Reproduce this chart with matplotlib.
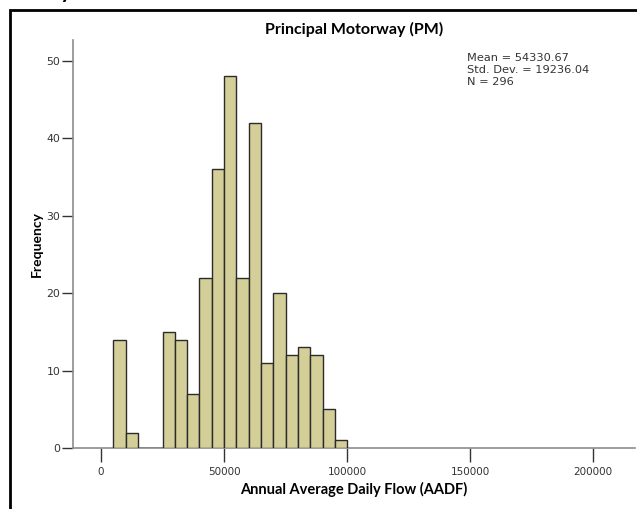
"""Histogram of AADF for principal motorways (SPSS style)."""

import matplotlib
matplotlib.use('Agg')
import matplotlib.pyplot as plt
from matplotlib.patches import Rectangle

BIN_START = [5000, 10000, 15000, 20000, 25000, 30000, 35000, 40000, 45000,
             50000, 55000, 60000, 65000, 70000, 75000, 80000, 85000, 90000,
             95000]
BIN_WIDTH = 5000
COUNTS = [14, 2, 0, 0, 15, 14, 7, 22, 36, 48, 22, 42, 11, 20, 12, 13, 12, 5, 1]

X_TICKS = [0, 50000, 100000, 150000, 200000]
Y_TICKS = [0, 10, 20, 30, 40, 50]

TITLE = 'Principal Motorway (PM)'
STATS = 'Mean = 54330.67\nStd. Dev. = 19236.04\nN = 296'
X_LABEL = 'Annual Average Daily Flow (AADF)'
Y_LABEL = 'Frequency'

BAR_COLOR = '#d4cf98'
EDGE_COLOR = '#2b2b2b'
AXIS_COLOR = '#8c8c8c'
TEXT_COLOR = '#333333'


def main():
    fig = plt.figure(figsize=(6.37, 5.09), dpi=100)
    fig.patch.set_facecolor('white')

    # outer frame of the SPSS output box
    fig.add_artist(Rectangle((10 / 637, -0.1), 1.2, 1 - 10 / 509 + 0.1,
                             transform=fig.transFigure, fill=False,
                             edgecolor='black', linewidth=2))
    # heading above the frame, cut off by the image edge (only descender shows)
    fig.text(72 / 637, 1 + 1.5 / 509, 'Motorway', fontsize=16,
             fontweight='bold', family='Lato', ha='right', va='baseline')

    ax = fig.add_axes([73 / 637, 1 - 448 / 509, 562 / 637, 408 / 509])
    ax.bar(BIN_START, COUNTS, width=BIN_WIDTH, align='edge',
           color=BAR_COLOR, edgecolor=EDGE_COLOR, linewidth=1.0, zorder=3)

    ax.set_xlim(-11400, 217000)
    ax.set_ylim(0, 52.7)
    ax.set_xticks(X_TICKS)
    ax.set_xticklabels([str(t) for t in X_TICKS])
    ax.set_yticks(Y_TICKS)

    for side in ['top', 'right']:
        ax.spines[side].set_visible(False)
    for side in ['left', 'bottom']:
        ax.spines[side].set_color(AXIS_COLOR)
        ax.spines[side].set_linewidth(1.2)

    ax.tick_params(axis='y', direction='out', length=8, width=1.0,
                   color='#333333', labelsize=7.8, labelcolor=TEXT_COLOR,
                   pad=1)
    ax.tick_params(axis='x', direction='out', length=10, width=1.0,
                   color='#333333', labelsize=7.5, labelcolor=TEXT_COLOR,
                   pad=4)

    ax.set_title(TITLE, fontsize=11.5, fontweight='bold', family='Lato',
                 pad=4)
    ax.set_xlabel(X_LABEL, fontsize=10.5, fontweight='bold', family='Lato',
                  labelpad=3)
    ax.set_ylabel(Y_LABEL, fontsize=10, fontweight='bold', family='Lato',
                  labelpad=3)

    ax.text(467 / 637, 1 - 53 / 509, STATS, transform=fig.transFigure,
            fontsize=8.2, color=TEXT_COLOR, va='top', ha='left',
            linespacing=1.25)

    plt.savefig('out.png', dpi=100, facecolor='white')
    plt.close()


if __name__ == '__main__':
    main()
